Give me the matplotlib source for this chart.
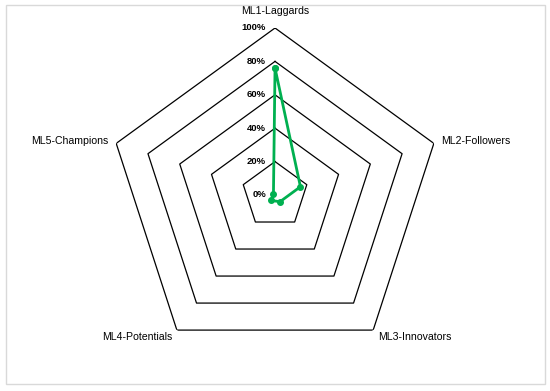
import numpy as np
import matplotlib
matplotlib.use("Agg")
import matplotlib.pyplot as plt
from matplotlib.patches import Rectangle

categories = ["ML1-Laggards", "ML2-Followers", "ML3-Innovators", "ML4-Potentials", "ML5-Champions"]
values = [76, 16, 5, 4, 1]
rings = [20, 40, 60, 80, 100]
tick_labels = ["0%", "20%", "40%", "60%", "80%", "100%"]
tick_values = [0, 20, 40, 60, 80, 100]

GREEN = "#00b050"

plt.rcParams["font.family"] = ["Liberation Sans", "DejaVu Sans"]

fig = plt.figure(figsize=(5.5, 3.91), dpi=100)
fig.patch.set_facecolor("white")
fig.add_artist(Rectangle((6 / 550, 1 - 384 / 391), 539 / 550, 379 / 391,
                         transform=fig.transFigure, fill=False,
                         edgecolor="#d9d9d9", linewidth=1.0))

ax = fig.add_axes([0.1964, 0.0742, 0.6073, 0.8542], projection="polar")
ax.set_theta_offset(np.pi / 2)
ax.set_theta_direction(-1)
ax.set_ylim(0, 100)
ax.grid(False)
ax.spines["polar"].set_visible(False)
ax.set_xticks([])
ax.set_yticks([])
ax.patch.set_alpha(0)

n = len(categories)
theta = np.arange(n) * 2 * np.pi / n
theta_closed = np.append(theta, theta[0])

for r in rings:
    ax.plot(theta_closed, [r] * (n + 1), color="black", linewidth=0.9, zorder=1)

vals_closed = values + [values[0]]
ax.plot(theta_closed, vals_closed, color=GREEN, linewidth=2.0, marker="o",
        markersize=4, zorder=3, clip_on=False)

# bold percentage labels along the top spoke
for v, lab in zip(tick_values, tick_labels):
    ax.annotate(lab, xy=(0, v), xytext=(-9, 0), textcoords="offset pixels",
                ha="right", va="center", fontsize=6.8, fontweight="bold", color="black")

label_pos = [(110, "center"), (104.5, "left"), (105, "left"), (105, "right"), (105, "right")]
for t, lab, (r, ha) in zip(theta, categories, label_pos):
    ax.text(t, r, lab, ha=ha, va="center", fontsize=7.6, color="black")

fig.savefig("out.png", dpi=100)
